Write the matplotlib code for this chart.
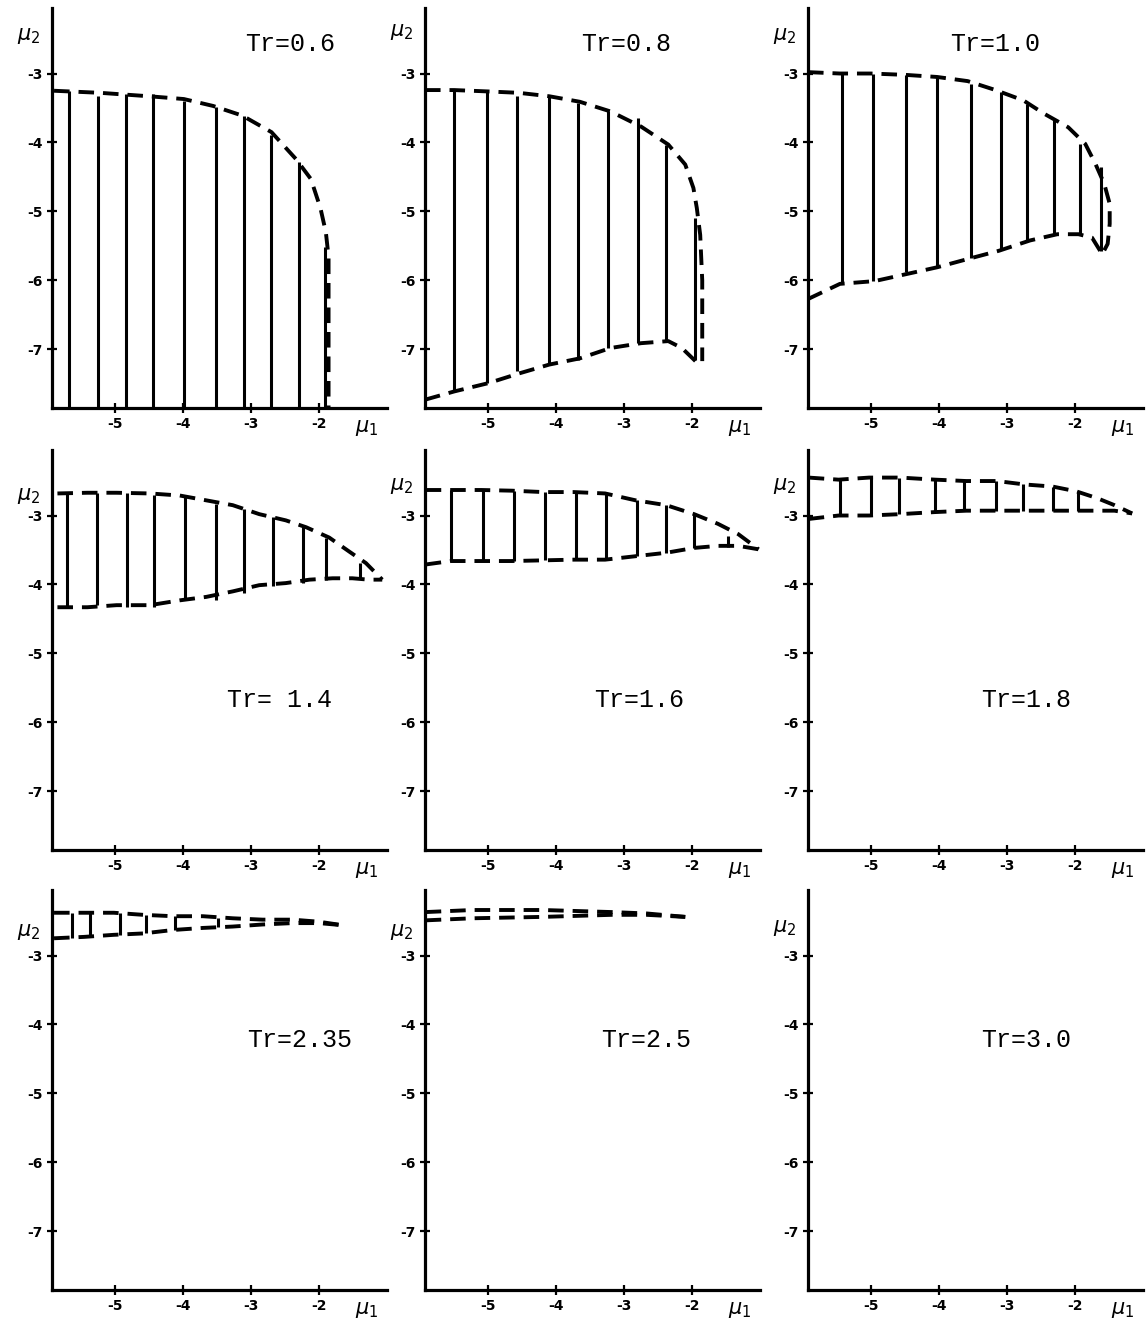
import matplotlib
matplotlib.use("Agg")
import matplotlib.pyplot as plt

# Tr values of the nine panels
tr_labels = ["Tr=0.6", "Tr=0.8", "Tr=1.0",
             "Tr= 1.4", "Tr=1.6", "Tr=1.8",
             "Tr=2.35", "Tr=2.5", "Tr=3.0"]

# ---- Tr=0.6 ----
up1_x = [-5.90, -5.22, -4.50, -3.99, -3.56, -3.13, -2.70, -2.34, -2.12, -1.98, -1.90, -1.86, -1.86, -1.86]
up1_y = [-3.25, -3.28, -3.33, -3.37, -3.47, -3.61, -3.85, -4.24, -4.53, -4.95, -5.30, -5.66, -6.60, -7.85]
v1_x = [-5.68, -5.26, -4.84, -4.44, -3.99, -3.51, -3.11, -2.71, -2.29, -1.91]
v1_top = [-3.25, -3.33, -3.30, -3.30, -3.40, -3.49, -3.61, -3.89, -4.29, -5.52]
v1_bot = [-7.85] * 10

# ---- Tr=0.8 ----
up2_x = [-5.93, -5.50, -5.00, -4.55, -4.10, -3.65, -3.20, -2.75, -2.35, -2.10, -1.98, -1.93, -1.88, -1.85, -1.85]
up2_y = [-3.24, -3.24, -3.26, -3.28, -3.33, -3.41, -3.55, -3.77, -4.03, -4.32, -4.66, -4.95, -5.34, -6.00, -7.17]
lo2_x = [-5.93, -5.50, -5.00, -4.55, -4.10, -3.65, -3.20, -2.75, -2.35, -2.15, -1.95]
lo2_y = [-7.73, -7.61, -7.49, -7.35, -7.22, -7.13, -6.98, -6.91, -6.88, -6.98, -7.17]
v2_x = [-5.51, -5.02, -4.58, -4.10, -3.68, -3.24, -2.80, -2.38, -1.95]
v2_top = [-3.24, -3.26, -3.33, -3.33, -3.43, -3.55, -3.65, -4.03, -5.10]
v2_bot = [-7.61, -7.49, -7.32, -7.22, -7.15, -6.98, -6.91, -6.88, -7.15]

# ---- Tr=1.0 ----
up3_x = [-5.93, -5.46, -5.00, -4.49, -4.03, -3.58, -3.17, -2.76, -2.46, -2.10, -1.85, -1.70, -1.57, -1.49, -1.49, -1.52, -1.60]
up3_y = [-2.98, -3.00, -3.00, -3.02, -3.05, -3.11, -3.24, -3.39, -3.58, -3.78, -4.02, -4.31, -4.60, -4.89, -5.18, -5.47, -5.62]
lo3_x = [-5.93, -5.46, -4.95, -4.49, -4.03, -3.58, -3.12, -2.66, -2.26, -1.95, -1.75, -1.60]
lo3_y = [-6.27, -6.05, -6.01, -5.91, -5.81, -5.69, -5.57, -5.42, -5.33, -5.33, -5.38, -5.62]
v3_x = [-5.43, -4.97, -4.49, -4.03, -3.53, -3.09, -2.71, -2.31, -1.93, -1.62]
v3_top = [-3.00, -3.00, -3.02, -3.05, -3.15, -3.27, -3.44, -3.68, -4.02, -4.36]
v3_bot = [-6.03, -6.01, -5.88, -5.81, -5.67, -5.55, -5.42, -5.33, -5.33, -5.57]

# ---- Tr=1.4 ----
up4_x = [-5.85, -5.41, -4.98, -4.49, -4.05, -3.66, -3.27, -2.88, -2.49, -2.19, -1.85, -1.56, -1.31, -1.07]
up4_y = [-2.68, -2.67, -2.67, -2.68, -2.71, -2.78, -2.85, -2.98, -3.07, -3.17, -3.32, -3.52, -3.69, -3.93]
lo4_x = [-5.85, -5.41, -4.98, -4.49, -4.05, -3.66, -3.27, -2.88, -2.49, -2.14, -1.80, -1.51, -1.27, -1.07]
lo4_y = [-4.33, -4.33, -4.30, -4.30, -4.23, -4.18, -4.10, -4.01, -3.98, -3.93, -3.91, -3.91, -3.93, -3.93]
v4_x = [-5.71, -5.27, -4.83, -4.43, -3.98, -3.51, -3.10, -2.68, -2.24, -1.90, -1.39]
v4_top = [-2.67, -2.67, -2.68, -2.70, -2.72, -2.83, -2.90, -3.02, -3.17, -3.32, -3.69]
v4_bot = [-4.34, -4.30, -4.32, -4.32, -4.23, -4.22, -4.13, -4.02, -3.98, -3.93, -3.91]

# ---- Tr=1.6 ----
up5_x = [-5.92, -5.55, -5.10, -4.65, -4.19, -3.74, -3.28, -2.83, -2.38, -1.97, -1.62, -1.32, -1.02]
up5_y = [-2.63, -2.63, -2.63, -2.64, -2.66, -2.66, -2.68, -2.78, -2.85, -2.98, -3.12, -3.27, -3.49]
lo5_x = [-5.92, -5.55, -5.10, -4.65, -4.19, -3.74, -3.28, -2.83, -2.38, -1.97, -1.62, -1.32, -1.02]
lo5_y = [-3.71, -3.66, -3.66, -3.66, -3.65, -3.64, -3.64, -3.59, -3.54, -3.47, -3.44, -3.44, -3.49]
v5_x = [-5.55, -5.08, -4.62, -4.17, -3.71, -3.26, -2.81, -2.38, -1.97, -1.47]
v5_top = [-2.63, -2.63, -2.64, -2.66, -2.66, -2.68, -2.78, -2.85, -2.98, -3.30]
v5_bot = [-3.66, -3.66, -3.66, -3.65, -3.64, -3.64, -3.59, -3.54, -3.47, -3.45]

# ---- Tr=1.8 ----
up6_x = [-5.92, -5.48, -5.03, -4.57, -4.06, -3.60, -3.15, -2.74, -2.33, -1.98, -1.67, -1.42, -1.16]
up6_y = [-2.45, -2.48, -2.45, -2.45, -2.48, -2.50, -2.50, -2.55, -2.58, -2.65, -2.75, -2.85, -2.97]
lo6_x = [-5.92, -5.48, -5.03, -4.57, -4.06, -3.60, -3.15, -2.74, -2.33, -1.98, -1.67, -1.42, -1.16]
lo6_y = [-3.05, -3.00, -3.00, -2.98, -2.95, -2.93, -2.93, -2.93, -2.93, -2.93, -2.93, -2.93, -2.97]
v6_x = [-5.46, -5.00, -4.59, -4.06, -3.63, -3.17, -2.77, -2.33, -1.95]
v6_top = [-2.45, -2.45, -2.45, -2.48, -2.50, -2.50, -2.55, -2.58, -2.65]
v6_bot = [-3.00, -2.98, -2.98, -2.95, -2.93, -2.93, -2.93, -2.93, -2.93]

# ---- Tr=2.35 ----
up7_x = [-5.90, -5.46, -5.02, -4.59, -4.15, -3.71, -3.27, -2.83, -2.39, -2.00, -1.66]
up7_y = [-2.38, -2.38, -2.38, -2.41, -2.43, -2.43, -2.46, -2.48, -2.48, -2.51, -2.56]
lo7_x = [-5.90, -5.46, -5.02, -4.59, -4.15, -3.71, -3.27, -2.83, -2.39, -2.00, -1.66]
lo7_y = [-2.75, -2.73, -2.70, -2.68, -2.63, -2.60, -2.58, -2.55, -2.53, -2.53, -2.56]
v7_x = [-5.63, -5.37, -4.93, -4.54, -4.12, -3.49]
v7_top = [-2.38, -2.38, -2.38, -2.41, -2.43, -2.45]
v7_bot = [-2.74, -2.72, -2.70, -2.68, -2.63, -2.59]

# ---- Tr=2.5 ----
up8_x = [-5.92, -5.23, -4.20, -3.18, -2.67, -2.10]
up8_y = [-2.37, -2.34, -2.34, -2.37, -2.39, -2.44]
lo8_x = [-5.92, -5.23, -4.20, -3.18, -2.67, -2.10]
lo8_y = [-2.49, -2.46, -2.44, -2.41, -2.41, -2.44]

x_ticks = [-5, -4, -3, -2]
x_ticklabels = ["-5", "-4", "-3", "-2"]
y_ticks = [-3, -4, -5, -6, -7]
y_ticklabels = ["-3", "-4", "-5", "-6", "-7"]

panels = [
    (up1_x, up1_y, None, None, v1_x, v1_top, v1_bot),
    (up2_x, up2_y, lo2_x, lo2_y, v2_x, v2_top, v2_bot),
    (up3_x, up3_y, lo3_x, lo3_y, v3_x, v3_top, v3_bot),
    (up4_x, up4_y, lo4_x, lo4_y, v4_x, v4_top, v4_bot),
    (up5_x, up5_y, lo5_x, lo5_y, v5_x, v5_top, v5_bot),
    (up6_x, up6_y, lo6_x, lo6_y, v6_x, v6_top, v6_bot),
    (up7_x, up7_y, lo7_x, lo7_y, v7_x, v7_top, v7_bot),
    (up8_x, up8_y, lo8_x, lo8_y, [], [], []),
    (None, None, None, None, [], [], []),
]

# label placement (axes fraction)
tr_pos = [(0.71, 0.91), (0.60, 0.91), (0.56, 0.91),
          (0.68, 0.375), (0.64, 0.375), (0.65, 0.375),
          (0.74, 0.625), (0.66, 0.625), (0.65, 0.625)]
mu2_y = [0.93, 0.94, 0.93, 0.885, 0.91, 0.91, 0.895, 0.895, 0.905]

W, H = 1147, 1318
fig = plt.figure(figsize=(W / 100, H / 100), dpi=100)
col_left = [52, 425, 808]
row_bottom = [408, 850, 1290]
ax_w, ax_h = 335, 400

for i, (ux, uy, lx, ly, vx, vt, vb) in enumerate(panels):
    r, c = divmod(i, 3)
    ax = fig.add_axes([col_left[c] / W, 1 - row_bottom[r] / H, ax_w / W, ax_h / H])
    ax.set_xlim(-5.93, -1.0)
    ax.set_ylim(-7.85, -2.05)
    for s in ["top", "right"]:
        ax.spines[s].set_visible(False)
    for s in ["left", "bottom"]:
        ax.spines[s].set_linewidth(2.3)
    ax.set_xticks(x_ticks)
    ax.set_xticklabels(x_ticklabels, fontsize=10, fontweight="bold")
    ax.set_yticks(y_ticks)
    ax.set_yticklabels(y_ticklabels, fontsize=10, fontweight="bold")
    ax.tick_params(direction="inout", length=7, width=1.6, pad=3)

    if ux is not None:
        ax.plot(ux, uy, color="black", lw=2.8, dashes=(4, 2.3), solid_capstyle="butt")
    if lx is not None:
        ax.plot(lx, ly, color="black", lw=2.8, dashes=(4, 2.3), solid_capstyle="butt")
    if len(vx):
        ax.vlines(vx, vb, vt, color="black", lw=2.2)

    ax.text(tr_pos[i][0], tr_pos[i][1], tr_labels[i], transform=ax.transAxes,
            family="Liberation Mono", fontsize=18, ha="center", va="center")
    ax.text(-0.07, mu2_y[i], r"$\mu_2$", transform=ax.transAxes,
            fontsize=15, fontweight="bold", ha="center", va="center")
    ax.text(0.94, -0.05, r"$\mu_1$", transform=ax.transAxes,
            fontsize=15, fontweight="bold", ha="center", va="center")

fig.savefig("out.png", dpi=100, facecolor="white")
